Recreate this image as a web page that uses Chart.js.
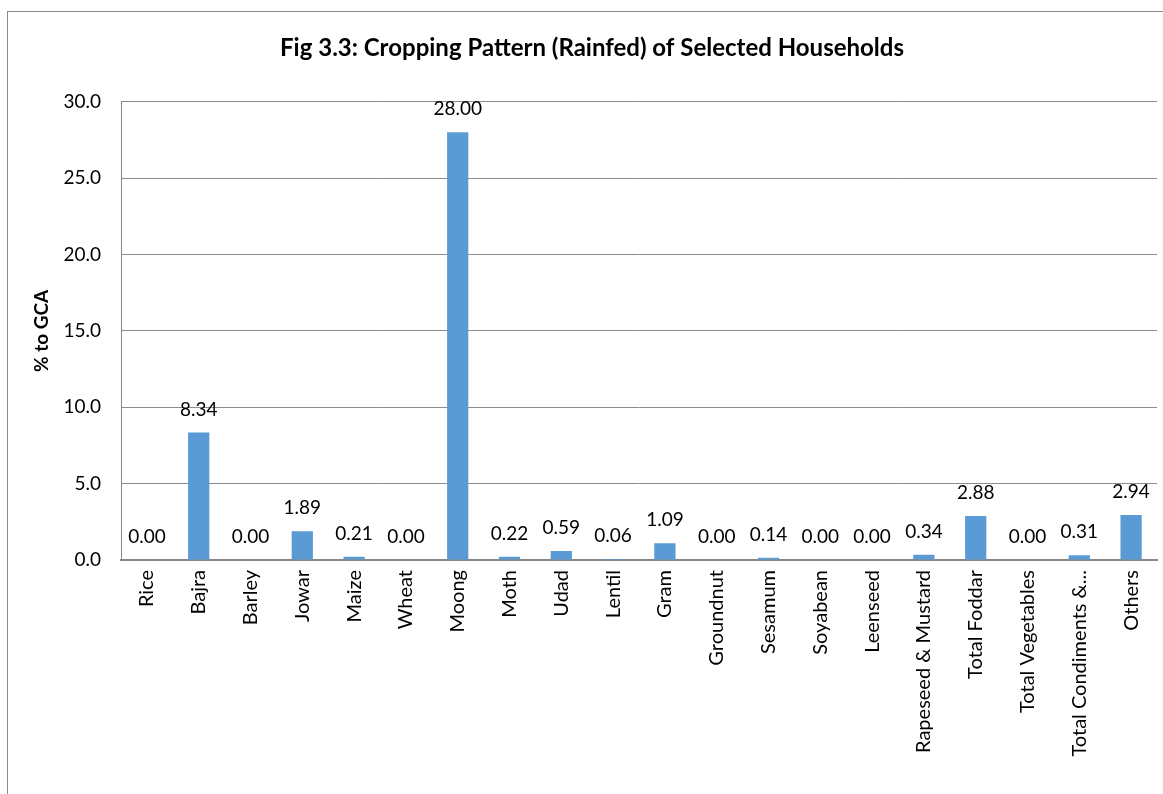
<!DOCTYPE html>
<html>
<head>
<meta charset="utf-8">
<script src="https://cdn.jsdelivr.net/npm/chart.js@4.4.1/dist/chart.umd.min.js"></script>
<style>
  html, body { margin: 0; padding: 0; background: #fff; overflow: hidden; }
  #frame {
    position: absolute; left: 7px; top: 11px;
    border-left: 1px solid #8a8a8a; border-top: 1px solid #8a8a8a;
    width: 1168px; height: 790px;
  }
  canvas { display: block; }
</style>
</head>
<body>
<div id="frame"><canvas id="crop-chart" width="1168" height="783"></canvas></div>
<script>
// crops and their share of gross cropped area (%)
const crops = ['Rice', 'Bajra', 'Barley', 'Jowar', 'Maize', 'Wheat', 'Moong', 'Moth', 'Udad', 'Lentil',
  'Gram', 'Groundnut', 'Sesamum', 'Soyabean', 'Leenseed', 'Rapeseed & Mustard', 'Total Foddar',
  'Total Vegetables', 'Total Condiments &...', 'Others'];
const shareGCA = [0.00, 8.34, 0.00, 1.89, 0.21, 0.00, 28.00, 0.22, 0.59, 0.06,
  1.09, 0.00, 0.14, 0.00, 0.00, 0.34, 2.88, 0.00, 0.31, 2.94];
const yTicks = [0, 5, 10, 15, 20, 25, 30];

const FONT = 'Lato, "Open Sans", sans-serif';

// write the value above each bar
const valueLabels = {
  id: 'valueLabels',
  afterDatasetsDraw(chart) {
    const ctx = chart.ctx;
    const meta = chart.getDatasetMeta(0);
    ctx.save();
    ctx.font = '19px ' + FONT;
    ctx.fillStyle = '#000';
    ctx.textAlign = 'center';
    ctx.textBaseline = 'middle';
    meta.data.forEach((bar, i) => {
      ctx.fillText(shareGCA[i].toFixed(2), bar.x, bar.y - 23);
    });
    ctx.restore();
  }
};

const ctx = document.getElementById('crop-chart').getContext('2d');
new Chart(ctx, {
  type: 'bar',
  data: {
    labels: crops,
    datasets: [{
      data: shareGCA,
      backgroundColor: '#5B9BD5',
      borderWidth: 0,
      barPercentage: 0.41,
      categoryPercentage: 1.0
    }]
  },
  options: {
    responsive: false,
    animation: false,
    layout: { padding: { left: 19, right: 19, top: 0, bottom: 0 } },
    plugins: {
      legend: { display: false },
      tooltip: { enabled: false },
      title: {
        display: true,
        text: 'Fig 3.3: Cropping Pattern (Rainfed) of Selected Households',
        color: '#000',
        font: { family: FONT, size: 24, weight: 'bold' },
        padding: { top: 22, bottom: 39 }
      }
    },
    scales: {
      x: {
        grid: { display: false, drawTicks: false },
        border: { color: '#868686', width: 2 },
        ticks: {
          color: '#000',
          font: { family: FONT, size: 20 },
          maxRotation: 90,
          minRotation: 90,
          autoSkip: false,
          padding: 10
        },
        afterFit(scale) { scale.height = 235; }
      },
      y: {
        min: 0,
        max: 30,
        afterBuildTicks(scale) { scale.ticks = yTicks.map(v => ({ value: v })); },
        grid: { color: '#8c8c8c', drawTicks: false },
        border: { color: '#868686', width: 1 },
        ticks: {
          color: '#000',
          font: { family: FONT, size: 19 },
          padding: 20,
          callback: v => v.toFixed(1)
        },
        title: {
          display: true,
          text: '% to GCA',
          color: '#000',
          font: { family: FONT, size: 19, weight: 'bold' },
          padding: { top: 3, bottom: 0 }
        },
        afterFit(scale) { scale.width = 94; }
      }
    }
  },
  plugins: [valueLabels]
});
</script>
</body>
</html>
